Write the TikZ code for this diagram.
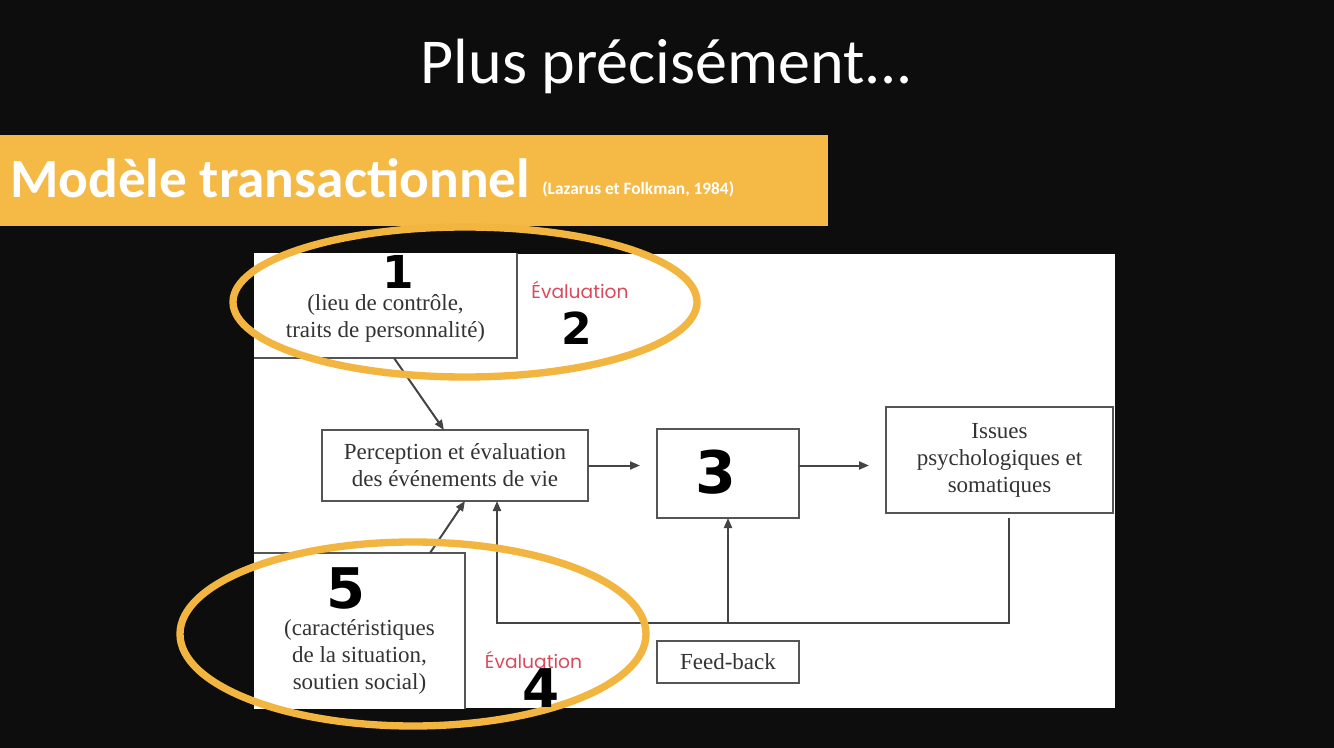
\documentclass[tikz,border=0pt]{standalone}
\usepackage{fontspec}
\setmainfont{Liberation Serif}
\newfontfamily\calibri{Carlito}
\newfontfamily\geo{Poppins}
\newfontfamily\hand{DejaVu Sans}
\usetikzlibrary{arrows.meta,calc}
\definecolor{bg}{HTML}{0D0D0D}
\definecolor{banner}{HTML}{F5B945}
\definecolor{ring}{HTML}{F2B540}
\definecolor{boxline}{HTML}{555555}
\definecolor{boxtext}{HTML}{333333}
\definecolor{evred}{HTML}{D94A5A}
\begin{document}
\begin{tikzpicture}[x=0.75pt,y=-0.75pt,
  boxnode/.style={draw=boxline, line width=1.5pt, inner sep=0pt, outer sep=0pt, fill=white},
  serif/.style={text=boxtext, align=center, font=\fontsize{17.25pt}{20.25pt}\selectfont},
  conn/.style={draw=boxline!80!black, line width=1.5pt},
  arr/.style={conn, -{Triangle[length=7.5pt,width=6pt]}},
  evalstyle/.style={text=evred, font=\geo\fontsize{14pt}{16pt}\selectfont, inner sep=0pt, anchor=base},
  ringstyle/.style={draw=ring, line width=5.5pt},
  numstyle/.style={text=black, font=\hand\bfseries, inner sep=0pt}]
\useasboundingbox (0,0) rectangle (1334,748);
\fill[bg] (0,0) rectangle (1334,748);
% title
\node[text=white, font=\calibri\fontsize{48pt}{56pt}\selectfont, anchor=base, inner sep=0pt] (title) at (667,84) {Plus précisément...};
% banner
\fill[banner] (0,135) rectangle (828,226);
\node[text=white, font=\calibri\bfseries\fontsize{41.5pt}{46pt}\selectfont, anchor=base west, inner sep=0pt] (bantitle) at (10,198) {Modèle transactionnel};
\node[text=white, font=\calibri\bfseries\fontsize{13pt}{15pt}\selectfont, anchor=base west, inner sep=0pt] (bancite) at (542,195) {(Lazarus et Folkman, 1984)};
% white panel
\fill[white] (254,254) rectangle (1115,708);
\begin{scope}
\clip (254,254) rectangle (1115,708);
\node[boxnode, minimum width=237.75pt, minimum height=88.5pt] (b1) at (358.5,299) {};
\node[boxnode, minimum width=198.75pt, minimum height=159pt] (b5) at (332.5,659) {};
\end{scope}
\node[serif] (b1t) at (385.5,318) {(lieu de contrôle,\\traits de personnalité)};
\node[serif] (b5t) at (359.5,657) {(caractéristiques\\de la situation,\\soutien social)};
\node[boxnode, serif, minimum width=199.5pt, minimum height=53.25pt] (perc) at (455,465.5) {Perception et évaluation\\des événements de vie};
\node[boxnode, minimum width=106.5pt, minimum height=66.75pt] (b3) at (728,473.5) {};
\node[boxnode, serif, minimum width=170.25pt, minimum height=79.5pt] (iss) at (999.5,460) {Issues\\psychologiques et\\somatiques};
\node[boxnode, serif, minimum width=106.5pt, minimum height=31.5pt] (fb) at (728,662) {Feed-back};
% Evaluation labels
\node[evalstyle] (ev1) at (580,299) {Évaluation};
\node[evalstyle] (ev2) at (533.5,668) {Évaluation};
% connectors
\draw[arr] ($(b1.south)+(35.5,0)$) -- ($(perc.north)+(-11,0)$);
\draw[arr] ($(b5.north)+(97.5,0)$) -- ($(perc.south)+(10,0)$);
\draw[arr, shorten >=12.75pt] (perc.east) -- (perc.east -| b3.west);
\draw[arr, shorten >=12.75pt] (b3.east |- perc.east) -- (iss.west |- perc.east);
\coordinate (fbc) at (728,623);
\draw[arr] ($(iss.south)+(9.5,5)$) |- (fbc) -| ($(perc.south)+(42,0)$);
\draw[arr] (fbc) -- (b3.south);
% rings
\draw[ringstyle] (465,302) ellipse [x radius=232, y radius=75];
\draw[ringstyle] (413,634) ellipse [x radius=233, y radius=92];
% handwritten numbers
\node[numstyle, font=\hand\bfseries\fontsize{34pt}{40pt}\selectfont] (n1) at (398,272) {1};
\node[numstyle, font=\hand\bfseries\fontsize{33pt}{38pt}\selectfont] (n2) at (577,328) {2};
\node[numstyle, font=\hand\bfseries\fontsize{44pt}{50pt}\selectfont] (n3) at (716,472) {3};
\node[numstyle, font=\hand\bfseries\fontsize{42pt}{48pt}\selectfont] (n5) at (346,588) {5};
\node[numstyle, font=\hand\bfseries\fontsize{40pt}{46pt}\selectfont] (n4) at (541,688) {4};
\end{tikzpicture}
\end{document}
